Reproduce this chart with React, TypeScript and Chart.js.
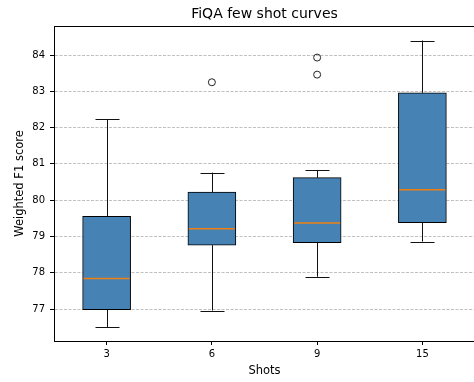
import React, { useEffect, useRef } from 'react';
import { Chart, registerables } from 'chart.js';

Chart.register(...registerables);

// ---- data ----
const categories = ['3', '6', '9', '15'];
const q1Values = [76.98, 78.76, 78.83, 79.38];
const q3Values = [79.555, 80.225, 80.62, 82.96];
const medianValues = [77.84, 79.215, 79.37, 80.29];
const whiskerLowValues = [76.5, 76.96, 77.89, 78.86];
const whiskerHighValues = [82.23, 80.76, 80.82, 84.4];
const outlierCategories = ['6', '9', '9'];
const outlierValues = [83.25, 83.93, 83.46];
const yTickValues = [77, 78, 79, 80, 81, 82, 83, 84];
const yMin = 76.12;
const yMax = 84.8;

const chartTitle = 'FiQA few shot curves';
const xTitle = 'Shots';
const yTitle = 'Weighted F1 score';

const FONT = "'DejaVu Sans', sans-serif";
const BOX_WIDTH = 48;

export default function App() {
  const ref = useRef<HTMLCanvasElement>(null);

  useEffect(() => {
    document.body.style.margin = '0';
    const canvas = ref.current;
    if (!canvas) return;

    const boxPlugin = {
      id: 'boxExtras',
      beforeDatasetsDraw(chart: any) {
        const ctx = chart.ctx;
        const x = chart.scales.x;
        const y = chart.scales.y;
        ctx.save();
        ctx.strokeStyle = '#111';
        ctx.lineWidth = 1;
        ctx.setLineDash([]);
        categories.forEach((c, i) => {
          const cx = Math.round(x.getPixelForValue(i)) + 0.5;
          const pLow = y.getPixelForValue(whiskerLowValues[i]);
          const pHigh = y.getPixelForValue(whiskerHighValues[i]);
          const pq1 = y.getPixelForValue(q1Values[i]);
          const pq3 = y.getPixelForValue(q3Values[i]);
          const half = BOX_WIDTH / 4;
          ctx.beginPath();
          ctx.moveTo(cx, pq1);
          ctx.lineTo(cx, pLow);
          ctx.moveTo(cx, pq3);
          ctx.lineTo(cx, pHigh);
          ctx.moveTo(cx - half, Math.round(pLow) + 0.5);
          ctx.lineTo(cx + half, Math.round(pLow) + 0.5);
          ctx.moveTo(cx - half, Math.round(pHigh) + 0.5);
          ctx.lineTo(cx + half, Math.round(pHigh) + 0.5);
          ctx.stroke();
        });
        ctx.restore();
      },
      afterDatasetsDraw(chart: any) {
        const ctx = chart.ctx;
        const x = chart.scales.x;
        const y = chart.scales.y;
        const area = chart.chartArea;
        ctx.save();
        ctx.strokeStyle = '#f07f12';
        ctx.lineWidth = 1.5;
        categories.forEach((c, i) => {
          const cx = x.getPixelForValue(i);
          const py = y.getPixelForValue(medianValues[i]);
          ctx.beginPath();
          ctx.moveTo(cx - BOX_WIDTH / 2 + 1, py);
          ctx.lineTo(cx + BOX_WIDTH / 2 - 1, py);
          ctx.stroke();
        });
        // top and right spines
        ctx.strokeStyle = '#000';
        ctx.lineWidth = 1;
        ctx.beginPath();
        ctx.moveTo(area.left, Math.round(area.top) + 0.5);
        ctx.lineTo(area.right, Math.round(area.top) + 0.5);
        ctx.moveTo(Math.round(area.right) + 0.5, area.top);
        ctx.lineTo(Math.round(area.right) + 0.5, area.bottom);
        ctx.stroke();
        ctx.restore();
      },
      afterDraw(chart: any) {
        const ctx = chart.ctx;
        const area = chart.chartArea;
        ctx.save();
        ctx.fillStyle = '#000';
        ctx.font = `14px ${FONT}`;
        ctx.textAlign = 'center';
        ctx.textBaseline = 'alphabetic';
        ctx.fillText(chartTitle, (area.left + area.right) / 2, 18);
        ctx.restore();
      },
    };

    const chart = new Chart(canvas, {
      type: 'bar',
      data: {
        labels: categories,
        datasets: [
          {
            type: 'bar',
            data: categories.map((c, i) => [q1Values[i], q3Values[i]]) as any,
            backgroundColor: '#4682b4',
            borderColor: '#000',
            borderWidth: 1,
            borderSkipped: false,
            barThickness: BOX_WIDTH,
          } as any,
          {
            type: 'scatter',
            data: outlierCategories.map((c, i) => ({ x: c, y: outlierValues[i] })) as any,
            xAxisID: 'x',
            yAxisID: 'y',
            pointRadius: 3.5,
            pointBorderWidth: 1,
            pointBackgroundColor: 'rgba(0,0,0,0)',
            pointBorderColor: '#222',
            showLine: false,
          } as any,
        ],
      },
      options: {
        responsive: false,
        animation: false,
        devicePixelRatio: 1,
        layout: { padding: { top: 26, right: 3, bottom: 0, left: 0 } },
        plugins: {
          legend: { display: false },
          tooltip: { enabled: false },
          title: { display: false },
        },
        scales: {
          x: {
            type: 'category',
            labels: categories,
            offset: true,
            grid: {
              drawOnChartArea: false,
              drawTicks: true,
              tickLength: 4,
              tickColor: '#000',
              tickWidth: 1,
              offset: false,
            },
            border: { color: '#000', width: 1 },
            ticks: { font: { family: FONT, size: 10 }, color: '#000', padding: 3 },
            title: {
              display: true,
              text: xTitle,
              font: { family: FONT, size: 11.5 },
              color: '#000',
              padding: { top: 0, bottom: 4 },
            },
            afterFit: (s: any) => {
              s.height = 41;
            },
          },
          y: {
            type: 'linear',
            min: yMin,
            max: yMax,
            afterBuildTicks: (s: any) => {
              s.ticks = yTickValues.map((v) => ({ value: v }));
            },
            grid: {
              color: '#c0c0c0',
              lineWidth: 1,
              drawTicks: true,
              tickLength: 4,
              tickColor: '#000',
              tickWidth: 1,
              tickBorderDash: [],
            },
            border: { color: '#000', width: 1, dash: [3, 1.5] },
            ticks: { font: { family: FONT, size: 10 }, color: '#000', padding: 5 },
            title: {
              display: true,
              text: yTitle,
              font: { family: FONT, size: 11.5 },
              color: '#000',
              padding: { top: 13, bottom: 0 },
            },
            afterFit: (s: any) => {
              s.width = 54;
            },
          },
        },
      } as any,
      plugins: [boxPlugin],
    });

    return () => chart.destroy();
  }, []);

  return (
    <div style={{ position: 'absolute', left: 0, top: 0, width: 474, height: 382, overflow: 'hidden', background: '#fff' }}>
      <canvas ref={ref} width={480} height={382} style={{ display: 'block' }} />
    </div>
  );
}
